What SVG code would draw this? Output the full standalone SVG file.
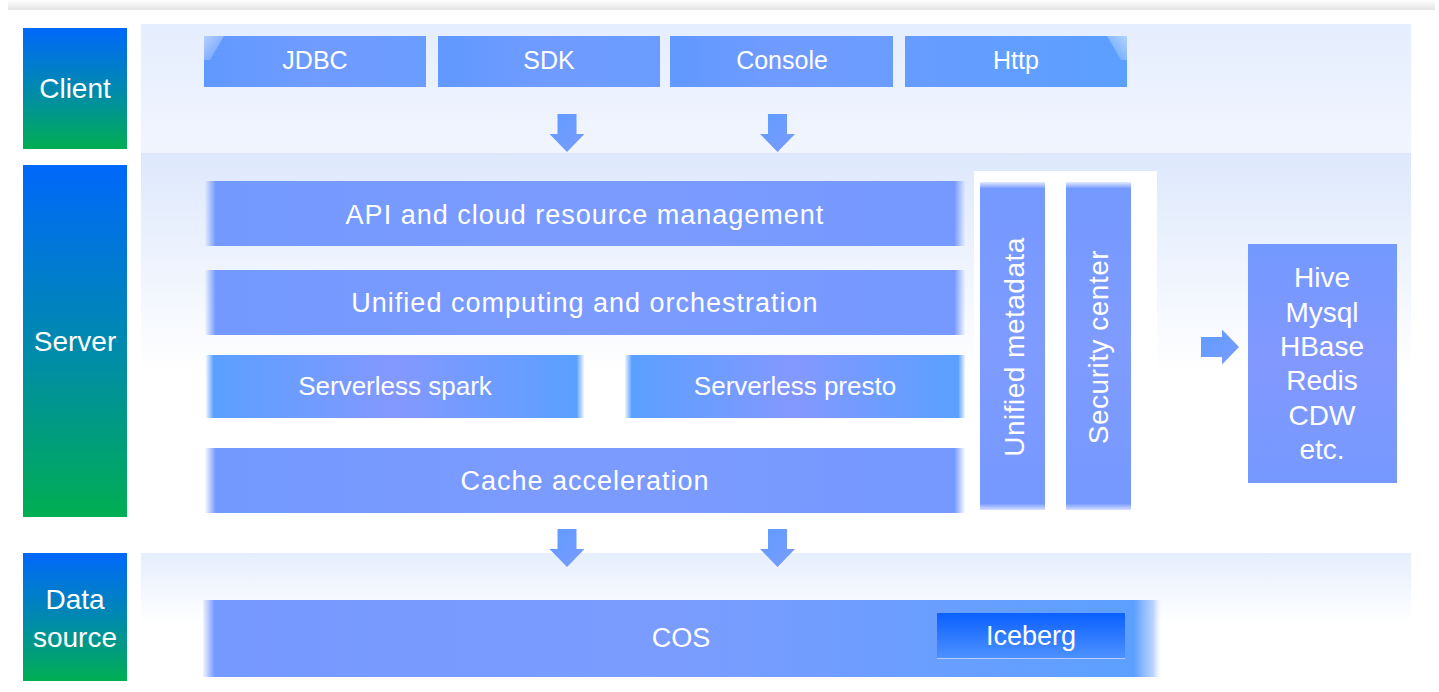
<svg xmlns="http://www.w3.org/2000/svg" width="1439" height="692" viewBox="0 0 1439 692">
<style>
.t{font-family:"Liberation Sans",Arial,sans-serif;fill:#ffffff;text-anchor:middle}
.s24{font-size:25px}
.s26{font-size:26px}
.s27{font-size:27px}
.s28{font-size:28px}
.arr{fill:url(#arrG)}
</style>
<defs>
<linearGradient id="topShadow" x1="0" y1="0" x2="0" y2="1"><stop offset="0" stop-color="#ffffff"/><stop offset="1" stop-color="#e3e3e3"/></linearGradient>
<linearGradient id="lbl" x1="0" y1="0" x2="0" y2="1"><stop offset="0" stop-color="#0068fb"/><stop offset="0.5" stop-color="#0089b0"/><stop offset="1" stop-color="#00ae52"/></linearGradient>
<linearGradient id="clientBg" x1="0" y1="0" x2="0" y2="1"><stop offset="0" stop-color="#e5eefe"/><stop offset="1" stop-color="#f1f5fe"/></linearGradient>
<linearGradient id="serverBg" x1="0" y1="0" x2="0" y2="1"><stop offset="0" stop-color="#dde8fc"/><stop offset="0.55" stop-color="#ffffff"/></linearGradient>
<linearGradient id="dataBg" x1="0" y1="0" x2="0" y2="1"><stop offset="0" stop-color="#e5eefd"/><stop offset="1" stop-color="#ffffff"/></linearGradient>
<linearGradient id="topBox" x1="0" y1="0" x2="1" y2="0"><stop offset="0" stop-color="#6099ff"/><stop offset="0.5" stop-color="#709bff"/><stop offset="1" stop-color="#6a9cff"/></linearGradient>
<linearGradient id="httpBox" x1="0" y1="0" x2="1" y2="0"><stop offset="0" stop-color="#679cff"/><stop offset="1" stop-color="#5b9fff"/></linearGradient>
<linearGradient id="wide" x1="0" y1="0" x2="1" y2="0"><stop offset="0" stop-color="#7a9bff" stop-opacity="0.05"/><stop offset="0.014" stop-color="#7399ff"/><stop offset="0.5" stop-color="#7c9bff"/><stop offset="0.986" stop-color="#7599ff"/><stop offset="1" stop-color="#7a9bff" stop-opacity="0.05"/></linearGradient>
<linearGradient id="sl" x1="0" y1="0" x2="1" y2="0"><stop offset="0" stop-color="#5ea0ff" stop-opacity="0.1"/><stop offset="0.02" stop-color="#5aa0ff"/><stop offset="0.5" stop-color="#8498ff"/><stop offset="0.98" stop-color="#5aa0ff"/><stop offset="1" stop-color="#5ea0ff" stop-opacity="0.1"/></linearGradient>
<linearGradient id="col" x1="0" y1="0" x2="0" y2="1"><stop offset="0" stop-color="#7a9bff" stop-opacity="0.2"/><stop offset="0.02" stop-color="#7499ff"/><stop offset="0.5" stop-color="#7f9bff"/><stop offset="0.98" stop-color="#7599ff"/><stop offset="1" stop-color="#7a9bff" stop-opacity="0.3"/></linearGradient>
<linearGradient id="hive" x1="0" y1="0" x2="0" y2="1"><stop offset="0" stop-color="#7399ff"/><stop offset="0.5" stop-color="#8298ff"/><stop offset="1" stop-color="#7599ff"/></linearGradient>
<linearGradient id="cos" x1="0" y1="0" x2="1" y2="0"><stop offset="0" stop-color="#7a9bff" stop-opacity="0.1"/><stop offset="0.012" stop-color="#7699ff"/><stop offset="0.5" stop-color="#7a9cff"/><stop offset="0.97" stop-color="#5ca0ff"/><stop offset="0.99" stop-color="#7aa9ff" stop-opacity="0.5"/><stop offset="1" stop-color="#ffffff" stop-opacity="0"/></linearGradient>
<linearGradient id="ice" x1="0" y1="0" x2="0" y2="1"><stop offset="0" stop-color="#0a60ff"/><stop offset="1" stop-color="#4f92ff"/></linearGradient>
<linearGradient id="arrG" x1="0" y1="0" x2="1" y2="1"><stop offset="0" stop-color="#5f9cff"/><stop offset="1" stop-color="#7b9bff"/></linearGradient>
<linearGradient id="hl1" x1="0" y1="0" x2="1" y2="1"><stop offset="0" stop-color="#ffffff" stop-opacity="0.55"/><stop offset="1" stop-color="#ffffff" stop-opacity="0"/></linearGradient>
<linearGradient id="hl2" x1="1" y1="0" x2="0" y2="1"><stop offset="0" stop-color="#ffffff" stop-opacity="0.55"/><stop offset="1" stop-color="#ffffff" stop-opacity="0"/></linearGradient>
</defs>
<rect width="1439" height="692" fill="#ffffff"/>
<rect x="8" y="0" width="1427" height="10" fill="url(#topShadow)"/>

<g id="backgrounds">
<rect x="141" y="24" width="1270" height="129" fill="url(#clientBg)"/>
<rect x="141" y="153" width="1270" height="400" fill="url(#serverBg)"/>
<rect x="141" y="553" width="1270" height="70" fill="url(#dataBg)"/>
<rect x="974" y="171" width="183" height="345" fill="#ffffff"/>
</g>

<g id="layer-client">
<rect x="23" y="28" width="104" height="121" fill="url(#lbl)"/>
<text class="t s28" x="75" y="98">Client</text>
</g>
<g id="layer-server">
<rect x="23" y="165" width="104" height="352" fill="url(#lbl)"/>
<text class="t s28" x="75" y="351">Server</text>
</g>
<g id="layer-data">
<rect x="23" y="553" width="104" height="128" fill="url(#lbl)"/>
<text class="t s28" x="75" y="609">Data</text>
<text class="t s28" x="75" y="647">source</text>
</g>

<g id="jdbc">
<rect x="204" y="36" width="222" height="51" fill="url(#topBox)"/>
<polygon points="204,36 224,36 210,60 204,60" fill="url(#hl1)"/>
<text class="t s24" x="315" y="69">JDBC</text>
</g>
<g id="sdk">
<rect x="438" y="36" width="222" height="51" fill="url(#topBox)"/>
<text class="t s24" x="549" y="69">SDK</text>
</g>
<g id="console">
<rect x="670" y="36" width="223" height="51" fill="url(#topBox)"/>
<text class="t s24" x="782" y="69">Console</text>
</g>
<g id="http">
<rect x="905" y="36" width="222" height="51" fill="url(#httpBox)"/>
<polygon points="1127,36 1107,36 1121,60 1127,60" fill="url(#hl2)"/>
<text class="t s24" x="1016" y="69">Http</text>
</g>

<g id="api">
<rect x="205" y="181" width="760" height="65" fill="url(#wide)"/>
<text class="t s27" x="585" y="224" letter-spacing="1">API and cloud resource management</text>
</g>
<g id="unified-computing">
<rect x="205" y="270" width="760" height="65" fill="url(#wide)"/>
<text class="t s27" x="585" y="312" letter-spacing="1">Unified computing and orchestration</text>
</g>
<g id="spark">
<rect x="206" y="355" width="378" height="63" fill="url(#sl)"/>
<text class="t s26" x="395" y="395">Serverless spark</text>
</g>
<g id="presto">
<rect x="625" y="355" width="340" height="63" fill="url(#sl)"/>
<text class="t s26" x="795" y="395">Serverless presto</text>
</g>
<g id="cache">
<rect x="205" y="448" width="760" height="65" fill="url(#wide)"/>
<text class="t s27" x="585" y="490" letter-spacing="1">Cache acceleration</text>
</g>
<g id="unified-metadata">
<rect x="980" y="182" width="65" height="328" fill="url(#col)"/>
<text class="t s28" transform="translate(1024,347) rotate(-90)" letter-spacing="0.5">Unified metadata</text>
</g>
<g id="security-center">
<rect x="1066" y="182" width="65" height="328" fill="url(#col)"/>
<text class="t s28" transform="translate(1108,347) rotate(-90)" letter-spacing="0.5">Security center</text>
</g>
<g id="external-sources">
<rect x="1248" y="244" width="149" height="239" fill="url(#hive)"/>
<text class="t s28" x="1322" y="287">Hive</text>
<text class="t s28" x="1322" y="322">Mysql</text>
<text class="t s28" x="1322" y="356">HBase</text>
<text class="t s28" x="1322" y="390">Redis</text>
<text class="t s28" x="1322" y="425">CDW</text>
<text class="t s28" x="1322" y="459">etc.</text>
</g>
<g id="cos-node">
<rect x="203" y="600" width="960" height="77" fill="url(#cos)"/>
<text class="t s27" x="681" y="647">COS</text>
</g>
<g id="iceberg">
<rect x="937" y="613" width="188" height="46" fill="url(#ice)"/>
<line x1="937" y1="658.5" x2="1125" y2="658.5" stroke="#b5cdff" stroke-width="1"/>
<text class="t s27" x="1031" y="645">Iceberg</text>
</g>

<g id="connectors">
<path class="arr" d="M557.5,114 h19 v20 h8 l-17.5,18 l-17.5,-18 h8 z"/>
<path class="arr" d="M768,114 h19 v20 h8 l-17.5,18 l-17.5,-18 h8 z"/>
<path class="arr" d="M557.5,529 h19 v20 h8 l-17.5,18 l-17.5,-18 h8 z"/>
<path class="arr" d="M768,529 h19 v20 h8 l-17.5,18 l-17.5,-18 h8 z"/>
<path class="arr" d="M1201,337 h21 v-7.5 l17,17.5 l-17,17.5 v-7.5 h-21 z"/>
</g>
</svg>
